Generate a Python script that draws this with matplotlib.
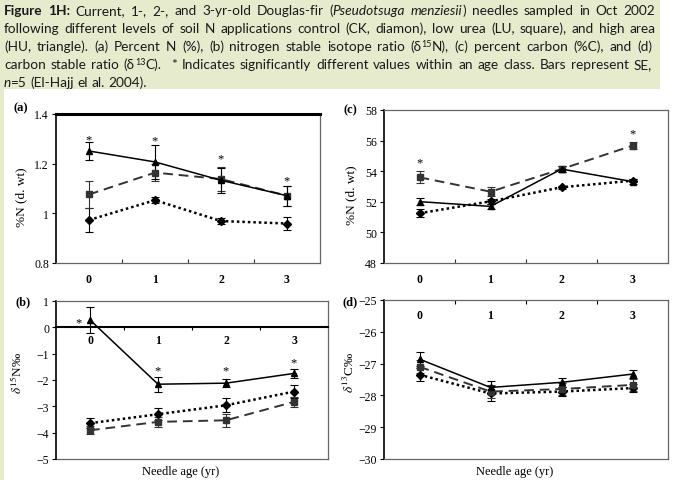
import re
import matplotlib
matplotlib.use('Agg')
import matplotlib.pyplot as plt
from matplotlib.patches import Rectangle
from matplotlib.ticker import FixedLocator, NullFormatter, FixedFormatter

# ---- data ----
ages = [0, 1, 2, 3]
age_labels = ['0', '1', '2', '3']

# (a) percent N
a_ck = [0.973, 1.053, 0.969, 0.959]
a_ck_se = [0.05, 0.012, 0.013, 0.028]
a_lu = [1.076, 1.164, 1.138, 1.071]
a_lu_se = [0.053, 0.035, 0.05, 0.04]
a_hu = [1.251, 1.207, 1.133, 1.071]
a_hu_se = [0.035, 0.068, 0.05, 0.04]
a_star_x = [0, 1, 2, 3]
a_star_y = [1.297, 1.293, 1.223, 1.133]
a_yticks = [0.8, 1.0, 1.2, 1.4]
a_ylabels = ['0.8', '1', '1.2', '1.4']

# (b) d15N
b_ck = [-3.64, -3.30, -2.96, -2.44]
b_ck_se = [0.2, 0.22, 0.27, 0.24]
b_lu = [-3.91, -3.59, -3.53, -2.83]
b_lu_se = [0.15, 0.2, 0.25, 0.2]
b_hu = [0.28, -2.16, -2.12, -1.75]
b_hu_se = [0.48, 0.29, 0.15, 0.17]
b_star_x = [-0.17, 1, 2, 3]
b_star_y = [0.19, -1.62, -1.62, -1.33]
b_yticks = [-5, -4, -3, -2, -1, 0, 1]
b_ylabels = ['\u22125', '\u22124', '\u22123', '\u22122', '\u22121', '0', '1']

# (c) percent C
c_ck = [51.25, 52.03, 52.95, 53.38]
c_ck_se = [0.25, 0.15, 0.1, 0.1]
c_lu = [53.60, 52.66, 54.14, 55.67]
c_lu_se = [0.4, 0.3, 0.2, 0.25]
c_hu = [52.01, 51.70, 54.14, 53.32]
c_hu_se = [0.25, 0.15, 0.2, 0.15]
c_star_x = [0, 3]
c_star_y = [54.58, 56.5]
c_yticks = [48, 50, 52, 54, 56, 58]
c_ylabels = ['48', '50', '52', '54', '56', '58']

# (d) d13C
d_ck = [-27.35, -27.94, -27.88, -27.77]
d_ck_se = [0.2, 0.25, 0.15, 0.12]
d_lu = [-27.10, -27.88, -27.80, -27.67]
d_lu_se = [0.2, 0.2, 0.2, 0.2]
d_hu = [-26.86, -27.75, -27.59, -27.33]
d_hu_se = [0.23, 0.2, 0.15, 0.12]
d_yticks = [-30, -29, -28, -27, -26, -25]
d_ylabels = ['\u221230', '\u221229', '\u221228', '\u221227', '\u221226', '\u221225']

SERIF = 'Liberation Serif'
plt.rcParams['mathtext.fontset'] = 'stix'

fig = plt.figure(figsize=(6.75, 4.81), dpi=100)
W, H = 675, 481
GREEN = '#e6ebcd'

# caption box + left strip
fig.patches.append(Rectangle((0, 1 - 90 / H), 660 / W, 90 / H, transform=fig.transFigure,
                             facecolor=GREEN, edgecolor='none', zorder=0))
fig.patches.append(Rectangle((0, 0), 4 / W, 1, transform=fig.transFigure,
                             facecolor=GREEN, edgecolor='none', zorder=0))


def axes_px(left, top, right, bottom):
    return fig.add_axes([left / W, (H - bottom) / H, (right - left) / W, (bottom - top) / H])


def draw_series(ax, ck, ck_se, lu, lu_se, hu, hu_se):
    ax.errorbar(ages, ck, yerr=ck_se, color='black', ls=(0, (1, 1.2)), lw=1.8,
                marker='D', ms=4, capsize=3, elinewidth=0.8, capthick=0.8)
    ax.errorbar(ages, lu, yerr=lu_se, color='#333333', ls=(0, (5, 3)), lw=1.4,
                marker='s', ms=4.5, capsize=3, elinewidth=0.8, capthick=0.8)
    ax.errorbar(ages, hu, yerr=hu_se, color='black', ls='-', lw=1.1,
                marker='^', ms=5, capsize=3, elinewidth=0.8, capthick=0.8)


def frame(ax, yticks, ylabels, ylim):
    ax.set_xlim(-0.5, 3.5)
    ax.set_ylim(*ylim)
    ax.set_yticks(yticks)
    ax.set_yticklabels(ylabels, fontfamily=SERIF, fontsize=8.5)
    ax.tick_params(axis='y', direction='out', length=3, width=0.8, pad=2)
    for s in ['top', 'right', 'bottom']:
        ax.spines[s].set_color('#666666')
        ax.spines[s].set_linewidth(0.9)
    ax.spines['left'].set_color('black')
    ax.spines['left'].set_linewidth(1.2)
    ax.xaxis.set_major_locator(FixedLocator([0.5, 1.5, 2.5]))
    ax.xaxis.set_major_formatter(NullFormatter())
    ax.xaxis.set_minor_locator(FixedLocator(ages))
    ax.xaxis.set_minor_formatter(FixedFormatter(age_labels))


def style_xlabels(ax):
    for lab in ax.xaxis.get_minorticklabels():
        lab.set_fontfamily(SERIF)
        lab.set_fontweight('bold')
        lab.set_fontsize(8.5)


def stars(ax, xs, ys):
    for x, y in zip(xs, ys):
        ax.text(x, y, '*', ha='center', va='center', fontsize=9, fontfamily=SERIF)


# ---- (a) ----
ax = axes_px(56, 115, 320, 264)
draw_series(ax, a_ck, a_ck_se, a_lu, a_lu_se, a_hu, a_hu_se)
frame(ax, a_yticks, a_ylabels, (0.8, 1.4))
ax.spines['top'].set_color('black')
ax.spines['top'].set_linewidth(2.2)
ax.tick_params(axis='x', which='major', direction='in', length=3, width=0.8, color='#333333')
ax.tick_params(axis='x', which='minor', length=0, pad=7)
stars(ax, a_star_x, a_star_y)
ax.set_ylabel('%N (d. wt)', fontfamily=SERIF, fontsize=9.5)
ax.yaxis.set_label_coords(-0.11, 0.45)
style_xlabels(ax)

# ---- (c) ----
ax = axes_px(384, 111, 668, 264)
draw_series(ax, c_ck, c_ck_se, c_lu, c_lu_se, c_hu, c_hu_se)
frame(ax, c_yticks, c_ylabels, (48, 58))
ax.tick_params(axis='x', which='major', direction='in', length=3, width=0.8, color='#333333')
ax.tick_params(axis='x', which='minor', length=0, pad=7)
stars(ax, c_star_x, c_star_y)
ax.set_ylabel('%N (d. wt)', fontfamily=SERIF, fontsize=9.5)
ax.yaxis.set_label_coords(-0.095, 0.45)
style_xlabels(ax)

# ---- (b) ----
ax = axes_px(56, 302, 328, 460)
draw_series(ax, b_ck, b_ck_se, b_lu, b_lu_se, b_hu, b_hu_se)
frame(ax, b_yticks, b_ylabels, (-5, 1))
ax.spines['bottom'].set_position(('data', 0))
ax.spines['bottom'].set_color('black')
ax.spines['bottom'].set_linewidth(1.5)
ax.axhline(-5, color='#666666', lw=0.9, clip_on=False)
ax.tick_params(axis='x', which='major', direction='out', length=2.5, width=0.8)
ax.tick_params(axis='x', which='minor', length=0, pad=5)
stars(ax, b_star_x, b_star_y)
ax.set_ylabel(r'$\delta^{15}$N‰', fontfamily=SERIF, fontsize=9.5)
ax.yaxis.set_label_coords(-0.115, 0.55)
ax.set_xlabel('Needle age (yr)', fontfamily=SERIF, fontsize=9)
ax.xaxis.set_label_coords(0.46, -0.035)
style_xlabels(ax)

# ---- (d) ----
ax = axes_px(384, 301, 668, 460)
draw_series(ax, d_ck, d_ck_se, d_lu, d_lu_se, d_hu, d_hu_se)
frame(ax, d_yticks, d_ylabels, (-30, -25))
ax.xaxis.set_ticks_position('top')
ax.tick_params(axis='x', which='major', direction='in', length=3, width=0.8,
               top=True, bottom=False, labeltop=False, labelbottom=False)
ax.tick_params(axis='x', which='minor', length=0, top=True, bottom=False,
               labeltop=True, labelbottom=False, pad=-15)
ax.set_ylabel(r'$\delta^{13}$C‰', fontfamily=SERIF, fontsize=9.5)
ax.yaxis.set_label_coords(-0.095, 0.55)
ax.set_xlabel('Needle age (yr)', fontfamily=SERIF, fontsize=9)
ax.xaxis.set_label_position('bottom')
ax.xaxis.set_label_coords(0.46, -0.035)
style_xlabels(ax)

# panel letters
for lbl, px, py in [('(a)', 13, 108), ('(c)', 343, 110), ('(b)', 15, 302), ('(d)', 342, 302)]:
    fig.text(px / W, 1 - py / H, lbl, fontfamily=SERIF, fontweight='bold', fontsize=9,
             ha='left', va='center')

# ---- caption with mixed styles ----
CAP_FONT = 'Lato'
CAP_SIZE = 9.8
renderer = fig.canvas.get_renderer()


def style_kw(style):
    kw = dict(fontsize=CAP_SIZE)
    if style == 'b':
        kw['fontweight'] = 'bold'
    elif style == 'i':
        kw['fontstyle'] = 'italic'
    elif style == 'sup':
        kw['fontsize'] = CAP_SIZE * 0.65
    return kw


def text_width(s, **kw):
    t = fig.text(0, 0, s, fontfamily=CAP_FONT, **kw)
    w = t.get_window_extent(renderer).width
    t.remove()
    return w


space_w = text_width('| |', fontsize=CAP_SIZE) - text_width('||', fontsize=CAP_SIZE)


def line(y_px, parts, end_px=None):
    x0 = 4.0
    pieces = []
    for s, style in parts:
        for tok in re.split(r'( +)', s):
            if tok:
                pieces.append((tok, style))
    natural = 0.0
    n_sp = 0
    for tok, style in pieces:
        if tok.strip() == '':
            n_sp += len(tok)
            natural += len(tok) * space_w
        else:
            natural += text_width(tok, **style_kw(style))
    sw = space_w
    if end_px is not None and n_sp:
        sw = space_w + (end_px - x0 - natural) / n_sp
    x = x0
    for tok, style in pieces:
        if tok.strip() == '':
            x += len(tok) * sw
            continue
        kw = style_kw(style)
        dy = -4 if style == 'sup' else 0
        fig.text(x / W, 1 - (y_px + dy) / H, tok, fontfamily=CAP_FONT, va='baseline',
                 color='#1a1a1a', **kw)
        x += text_width(tok, **kw)


line(15, [('Figure 1H:', 'b'), (' Current, 1-, 2-, and 3-yr-old Douglas-fir (', 'n'),
          ('Pseudotsuga menziesii', 'i'), (') needles sampled in Oct 2002', 'n')], 655)
line(33, [('following different levels of soil N applications control (CK, diamon), '
           'low urea (LU, square), and high area', 'n')], 656)
line(51, [('(HU, triangle). (a) Percent N (%), (b) nitrogen stable isotope ratio (\u03b4', 'n'),
          ('15', 'sup'), ('N), (c) percent carbon (%C), and (d)', 'n')], 652)
line(69, [('carbon stable ratio (\u03b4', 'n'), ('13', 'sup'),
          ('C).  * Indicates significantly different values within an age class. '
           'Bars represent SE,', 'n')], 652)
line(87, [('n', 'i'), ('=5 (El-Hajj el al. 2004).', 'n')])

fig.savefig('out.png', dpi=100)
